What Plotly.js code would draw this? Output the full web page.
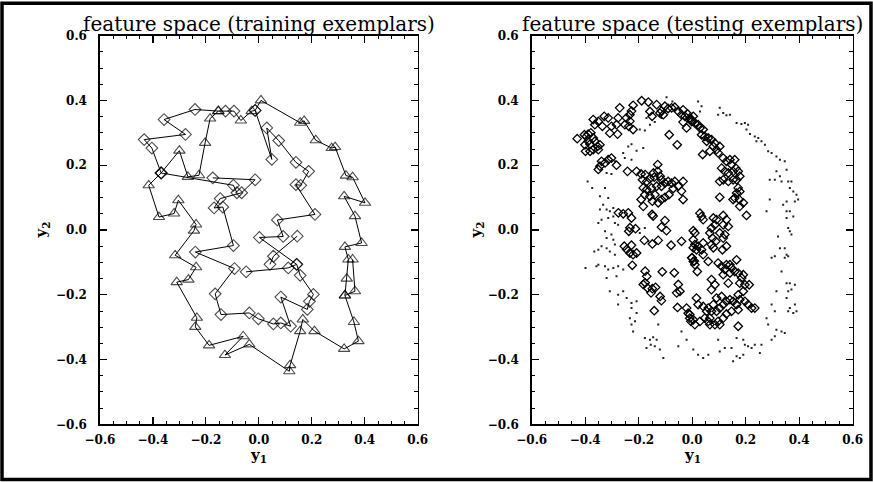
<!DOCTYPE html>
<html>
<head>
<meta charset="utf-8">
<script src="https://cdn.plot.ly/plotly-3.0.1.min.js"></script>
<style>html,body{margin:0;padding:0;background:#fff;}</style>
</head>
<body>
<div id="chart" style="width:873px;height:482px;"></div>
<script>
// ---------- left panel: training exemplars (polyline, null = break) ----------
const trainX = [
  -0.014, 0.008, 0.156, 0.171, 0.215, 0.275, 0.288, 0.329, 0.354, 0.401,
  0.322, 0.363, 0.388, 0.325, 0.338, 0.332, 0.325, 0.359, 0.376, 0.322,
  0.210, 0.166, 0.156, 0.118, 0.115, -0.036, -0.128, -0.059, -0.188, -0.240,
  -0.234, -0.310, -0.266, -0.237, -0.316, -0.245, -0.237, -0.304, -0.320, -0.377,
  -0.416, -0.369, -0.300, -0.268, -0.226, -0.203, -0.184, -0.153, -0.126, -0.094,
  -0.068, -0.027, -0.014, 0.049, 0.030, 0.075, 0.140, 0.188, 0.158, 0.140,
  0.212, 0.070, 0.092, 0.002, 0.143, 0.156, 0.206, 0.191, 0.183, 0.083,
  0.120, 0.083, 0.055, -0.002, -0.036, -0.143, -0.165, -0.092, -0.240, -0.096,
  -0.136, -0.169, -0.146, -0.065, -0.014, -0.174, null,
  -0.369, -0.404, -0.433, -0.277, -0.358, -0.241, -0.153, null,
  -0.369, -0.096, -0.083, null,
  -0.048, 0.111, 0.143, null,
  0.145, 0.055, 0.042, null,
  0.354, 0.363, 0.325
];
const trainY = [
  0.369, 0.400, 0.331, 0.337, 0.277, 0.253, 0.256, 0.168, 0.163, 0.084,
  0.104, 0.043, -0.040, -0.052, -0.091, -0.150, -0.202, -0.284, -0.343, -0.367,
  -0.312, -0.276, -0.312, -0.417, -0.436, -0.353, -0.386, -0.328, -0.356, -0.299,
  -0.271, -0.161, -0.153, -0.115, -0.078, -0.002, 0.017, 0.092, 0.051, 0.040,
  0.138, 0.176, 0.245, 0.164, 0.169, 0.269, 0.344, 0.367, 0.367, 0.367,
  0.338, 0.367, 0.369, 0.218, 0.315, 0.276, 0.209, 0.181, 0.138, 0.140,
  0.048, 0.031, -0.020, -0.023, -0.106, -0.140, -0.199, -0.220, -0.245, -0.207,
  -0.297, -0.287, -0.290, -0.274, -0.256, -0.261, -0.197, -0.119, -0.068, -0.048,
  0.071, 0.068, 0.097, 0.115, 0.155, 0.161, null,
  0.176, 0.253, 0.279, 0.295, 0.341, 0.372, 0.367, null,
  0.176, 0.138, 0.115, null,
  -0.129, -0.117, -0.106, null,
  -0.019, -0.081, -0.106, null,
  -0.091, -0.189, -0.202
];
// D = diamond exemplar, T = triangle exemplar
const trainSymbol = [
  'D','T','T','T','T','T','T','T','T','T',
  'T','T','T','T','T','T','T','T','T','T',
  'T','T','T','T','T','T','T','T','T','T',
  'T','T','T','T','T','T','T','T','T','T',
  'T','D','T','T','T','T','T','T','D','D',
  'T','T','D','D','D','D','D','D','D','D',
  'D','D','D','D','D','D','D','D','D','D',
  'D','D','D','D','D','D','D','D','D','D',
  'D','D','D','D','D','D', null,
  'D','D','D','D','D','D','T', null,
  'D','D','D', null,
  'D','D','D', null,
  'D','D','D', null,
  'T','T','T'
];

// ---------- right panel: testing exemplars ----------
const testDiamondX = [
  -0.189,-0.164,-0.133,-0.102,-0.115,-0.090,-0.077,-0.065,-0.052,-0.040,-0.034,-0.027,-0.017,-0.009,-0.002,-0.021,-0.034,-0.221,-0.227,-0.246,-0.271,-0.277,-0.283,-0.302,-0.314,-0.329,-0.336,-0.351,-0.370,-0.364,-0.308,-0.279,-0.252,-0.233,-0.221,-0.233,-0.237,-0.086,-0.056,-0.150,-0.158,-0.121,-0.108,
  -0.430,-0.403,-0.395,-0.389,-0.379,-0.370,-0.389,-0.401,-0.382,-0.364,-0.354,-0.370,-0.399,-0.382,-0.351,-0.345,
  -0.339,-0.326,-0.314,-0.302,-0.351,-0.345,-0.283,-0.242,
  -0.129,-0.208,-0.191,-0.176,-0.145,-0.129,-0.120,-0.186,-0.170,-0.158,-0.142,-0.115,-0.102,-0.090,-0.077,-0.065,-0.034,-0.052,-0.071,-0.040,-0.183,-0.170,-0.152,-0.133,-0.115,-0.177,-0.158,-0.139,-0.115,-0.102,-0.127,-0.149,-0.191,-0.183,-0.087,-0.034,
  -0.276,-0.258,-0.239,-0.227,-0.233,-0.237,-0.212,-0.150,-0.146,-0.102,-0.115,-0.096,-0.179,-0.149,-0.127,-0.079,-0.040,-0.254,-0.245,-0.233,-0.221,-0.208,-0.227,-0.224,-0.176,-0.170,-0.176,-0.183,-0.167,-0.154,-0.149,-0.137,-0.120,-0.115,-0.052,-0.046,-0.058,-0.112,-0.067,-0.142,-0.055,-0.021,-0.015,-0.009,-0.005,0.004,0.004,0.000,0.008,
  -0.002,0.010,0.004,0.022,0.029,0.041,0.035,0.047,0.054,0.060,0.072,0.085,0.079,0.091,0.103,0.097,0.039,0.066,0.116,0.128,0.141,0.159,0.147,0.163,0.110,0.122,0.135,0.153,0.172,0.178,0.166,0.153,0.116,0.135,0.103,0.172,0.178,0.166,0.159,0.153,0.176,0.191,0.178,0.203,0.103,
  0.029,0.035,0.041,0.079,0.091,0.116,0.128,0.135,0.116,0.085,0.072,0.066,0.076,0.088,0.072,0.103,0.116,0.122,0.128,0.113,0.010,0.004,0.010,0.022,0.035,0.041,0.016,-0.002,0.004,0.010,0.019,0.041,0.060,0.079,0.097,0.110,0.128,0.147,0.159,0.172,0.141,0.122,0.116,0.141,0.166,0.191,0.185,0.197,0.178,
  0.072,0.085,0.072,0.135,0.213,0.172,0.191,0.178,0.197,0.209,0.222,0.234,0.016,0.022,0.041,0.060,0.072,0.091,0.103,0.116,0.128,0.141,0.153,0.166,0.172,0.147,0.128,0.116,0.097,0.103,0.085,0.066,0.060,0.047,0.029,0.010,-0.009,0.004,0.172,0.110,0.091,0.079,0.054,0.066
];
const testDiamondY = [
  0.399,0.395,0.387,0.382,0.368,0.375,0.377,0.379,0.366,0.356,0.371,0.351,0.358,0.346,0.335,0.315,0.333,0.385,0.367,0.346,0.377,0.346,0.325,0.320,0.346,0.351,0.320,0.335,0.341,0.325,0.299,0.296,0.325,0.336,0.310,0.356,0.320,0.294,0.263,0.351,0.366,0.361,0.356,
  0.282,0.294,0.289,0.296,0.300,0.284,0.274,0.263,0.265,0.274,0.258,0.248,0.243,0.243,0.248,0.263,
  0.212,0.207,0.217,0.222,0.187,0.197,0.200,0.181,
  0.202,0.181,0.173,0.171,0.176,0.181,0.166,0.155,0.150,0.158,0.163,0.155,0.145,0.150,0.145,0.150,0.150,0.135,0.128,0.120,0.130,0.125,0.130,0.135,0.135,0.109,0.104,0.109,0.094,0.101,0.084,0.089,0.094,0.073,0.109,0.094,
  0.053,0.050,0.053,0.037,0.007,-0.004,0.004,0.048,0.043,0.029,0.009,-0.002,-0.032,-0.043,-0.032,-0.047,-0.035,-0.050,-0.060,-0.071,-0.076,-0.071,-0.047,-0.109,-0.127,-0.143,-0.163,-0.168,-0.179,-0.194,-0.181,-0.177,-0.205,-0.218,-0.168,-0.189,-0.194,-0.129,-0.132,-0.249,-0.239,-0.241,-0.257,-0.272,-0.282,-0.002,-0.055,-0.086,-0.096,
  0.340,0.330,0.351,0.325,0.315,0.310,0.294,0.289,0.274,0.284,0.279,0.268,0.258,0.248,0.258,0.238,0.233,0.243,0.222,0.212,0.217,0.217,0.202,0.191,0.191,0.181,0.176,0.181,0.181,0.166,0.155,0.155,0.155,0.150,0.150,0.130,0.119,0.114,0.099,0.094,0.094,0.084,0.073,0.045,0.101,
  0.052,0.042,0.032,0.037,0.032,0.045,0.032,0.011,0.016,0.016,0.006,-0.009,-0.025,-0.035,-0.045,-0.009,-0.025,-0.014,-0.050,-0.061,-0.009,-0.030,-0.045,-0.050,-0.061,-0.040,-0.061,-0.086,-0.097,-0.107,-0.128,-0.076,-0.097,-0.055,-0.102,-0.112,-0.107,-0.117,-0.128,-0.133,-0.133,-0.122,-0.138,-0.107,-0.092,-0.138,-0.148,-0.169,-0.164,
  -0.153,-0.169,-0.184,-0.164,-0.169,-0.200,-0.189,-0.215,-0.220,-0.230,-0.241,-0.241,-0.210,-0.230,-0.236,-0.241,-0.251,-0.251,-0.241,-0.230,-0.220,-0.215,-0.220,-0.230,-0.246,-0.251,-0.259,-0.272,-0.282,-0.292,-0.292,-0.292,-0.282,-0.272,-0.282,-0.292,-0.261,-0.277,-0.297,-0.205,-0.210,-0.230,-0.251,-0.272
];
const testDotX = [
  -0.096,-0.074,-0.171,-0.140,-0.115,-0.158,-0.177,-0.196,-0.227,-0.239,
  -0.208,-0.183,-0.258,-0.252,-0.227,-0.289,-0.320,-0.302,-0.391,-0.374,
  -0.326,-0.345,-0.314,-0.333,-0.345,-0.320,-0.308,-0.295,-0.295,-0.314,
  -0.289,-0.277,-0.339,-0.351,-0.326,-0.302,-0.320,-0.295,-0.289,-0.339,
  -0.320,-0.308,-0.289,-0.351,-0.366,-0.399,-0.358,-0.351,-0.326,-0.314,
  -0.295,-0.277,-0.258,-0.283,-0.320,-0.308,-0.277,-0.258,-0.245,-0.227,
  -0.208,-0.277,-0.227,-0.208,-0.233,-0.214,-0.227,-0.221,-0.177,-0.158,
  -0.146,-0.133,-0.155,-0.171,-0.140,-0.121,-0.108,-0.052,-0.040,-0.021,
  -0.127,-0.177,-0.196,-0.164,
  0.022,0.035,0.029,0.103,0.116,0.128,0.141,0.097,0.166,0.184,
  0.197,0.209,0.203,0.216,0.234,0.247,0.259,0.272,0.240,0.284,
  0.297,0.315,0.328,0.346,0.353,0.315,0.328,0.309,0.290,0.334,
  0.359,0.371,0.365,0.378,0.390,0.396,0.384,0.353,0.340,0.353,
  0.365,0.378,0.353,0.359,0.365,0.371,0.321,0.290,0.278,0.346,
  0.353,0.359,0.346,0.328,0.309,0.297,0.334,0.353,0.365,0.384,
  0.371,0.359,0.353,0.365,0.384,0.390,0.378,0.359,0.315,0.297,
  0.309,0.278,0.284,0.315,0.334,0.346,0.309,0.297,0.259,0.253,
  0.234,0.209,0.222,0.191,0.178,0.166,0.153,0.147,0.122,0.103,
  0.097,0.060,0.041,0.022,0.004,0.166,0.191,0.197
];
const testDotY = [
  0.410,0.397,0.346,0.333,0.346,0.325,0.307,0.310,0.265,0.258,
  0.245,0.253,0.238,0.222,0.217,0.212,0.176,0.173,0.150,0.130,
  0.130,0.104,0.099,0.078,0.063,0.063,0.058,0.068,0.042,0.037,
  0.022,0.016,0.032,0.022,-0.004,-0.014,-0.025,-0.030,-0.045,-0.050,
  -0.056,-0.066,-0.076,-0.061,-0.066,-0.117,-0.112,-0.107,-0.112,-0.122,
  -0.117,-0.112,-0.122,-0.143,-0.148,-0.189,-0.200,-0.189,-0.210,-0.225,
  -0.220,-0.230,-0.241,-0.256,-0.272,-0.282,-0.292,-0.313,-0.333,-0.339,
  -0.331,-0.339,-0.354,-0.364,-0.359,-0.369,-0.395,-0.359,-0.313,-0.339,
  -0.292,0.006,-0.009,-0.035,
  0.397,0.382,0.366,0.377,0.361,0.354,0.356,0.356,0.330,0.327,
  0.330,0.325,0.310,0.296,0.289,0.284,0.274,0.263,0.274,0.243,
  0.238,0.227,0.217,0.212,0.186,0.181,0.166,0.155,0.155,0.150,
  0.150,0.150,0.130,0.119,0.109,0.094,0.088,0.088,0.078,0.058,
  0.058,0.042,0.037,0.006,-0.004,-0.014,-0.020,0.094,0.058,-0.056,
  -0.076,-0.081,-0.086,-0.056,-0.081,-0.086,-0.128,-0.164,-0.164,-0.169,
  -0.184,-0.189,-0.210,-0.241,-0.230,-0.251,-0.256,-0.251,-0.189,-0.230,
  -0.251,-0.272,-0.292,-0.308,-0.313,-0.318,-0.328,-0.339,-0.354,-0.380,
  -0.354,-0.359,-0.364,-0.385,-0.395,-0.390,-0.405,-0.364,-0.364,-0.375,
  -0.339,-0.385,-0.395,-0.385,-0.369,-0.333,-0.339,-0.354
];

const titles = ['feature space (training exemplars)', 'feature space (testing exemplars)'];
const xLabel = 'y<sub>1</sub>';
const yLabel = 'y<sub>2</sub>';

// ---------- build ----------
const symMap = {D: 'diamond-open', T: 'triangle-up-open'};
const sizeMap = {D: 9, T: 10};
const trainTrace = {
  x: trainX, y: trainY, xaxis: 'x', yaxis: 'y',
  mode: 'lines+markers', type: 'scatter', connectgaps: false,
  line: {color: '#000', width: 1},
  marker: {
    symbol: trainSymbol.map(s => s ? symMap[s] : 'circle'),
    size: trainSymbol.map(s => s ? sizeMap[s] : 0),
    color: '#000', line: {color: '#000', width: 1.1}
  },
  hoverinfo: 'skip'
};
const dotTrace = {
  x: testDotX, y: testDotY, xaxis: 'x2', yaxis: 'y2',
  mode: 'markers', type: 'scatter',
  marker: {symbol: 'square', size: 2, color: '#222'},
  hoverinfo: 'skip'
};
const diamondTrace = {
  x: testDiamondX, y: testDiamondY, xaxis: 'x2', yaxis: 'y2',
  mode: 'markers', type: 'scatter',
  marker: {symbol: 'diamond-open', size: 6.5, color: '#000', line: {color: '#000', width: 1.3}},
  hoverinfo: 'skip'
};

const tickFont = {family: 'DejaVu Serif', size: 12, color: '#000', weight: 'bold'};
function axis(extra, isY) {
  return Object.assign({
    range: [-0.6, 0.6], tickmode: 'linear', tick0: -0.6, dtick: 0.2, tickformat: '.1f',
    ticks: 'inside', ticklen: 7, tickwidth: 1.2, tickcolor: '#000',
    mirror: 'ticks', showline: true, linewidth: 1.6, linecolor: '#000',
    showgrid: false, zeroline: false, fixedrange: true,
    minor: {tick0: -0.6, dtick: 0.05, ticks: 'inside', ticklen: 3.5, tickwidth: 1, tickcolor: '#000', showgrid: false},
    tickfont: tickFont,
    ticklabelstandoff: isY ? 9 : 4
  }, extra);
}
const yDom = [0.1195, 0.9261];
const titleFont = {family: 'DejaVu Serif', size: 20, color: '#000'};
const labelFont = {family: 'DejaVu Serif', size: 15, color: '#000', weight: 'bold'};
const layout = {
  width: 873, height: 482,
  margin: {l: 0, r: 0, t: 0, b: 0},
  paper_bgcolor: '#fff', plot_bgcolor: '#fff',
  showlegend: false,
  font: {family: 'DejaVu Serif', color: '#000'},
  xaxis: axis({domain: [0.1145, 0.4785], anchor: 'y'}, false),
  yaxis: axis({domain: yDom, anchor: 'x'}, true),
  xaxis2: axis({domain: [0.6091, 0.9767], anchor: 'y2'}, false),
  yaxis2: axis({domain: yDom, anchor: 'x2'}, true),
  annotations: [
    {text: titles[0], xref: 'x domain', x: 0.5, yref: 'paper', y: 0.951, xanchor: 'center', yanchor: 'middle', showarrow: false, font: titleFont},
    {text: titles[1], xref: 'x2 domain', x: 0.5, yref: 'paper', y: 0.951, xanchor: 'center', yanchor: 'middle', showarrow: false, font: titleFont},
    {text: xLabel, xref: 'x domain', x: 0.5, yref: 'paper', y: 0.056, xanchor: 'center', yanchor: 'middle', showarrow: false, font: labelFont},
    {text: xLabel, xref: 'x2 domain', x: 0.5, yref: 'paper', y: 0.056, xanchor: 'center', yanchor: 'middle', showarrow: false, font: labelFont},
    {text: yLabel, xref: 'paper', x: 0.0475, yref: 'y domain', y: 0.5, xanchor: 'center', yanchor: 'middle', textangle: -90, showarrow: false, font: labelFont},
    {text: yLabel, xref: 'paper', x: 0.5447, yref: 'y2 domain', y: 0.5, xanchor: 'center', yanchor: 'middle', textangle: -90, showarrow: false, font: labelFont}
  ],
  shapes: [
    {type: 'rect', xref: 'paper', yref: 'paper', x0: 0.0023, x1: 0.9977, y0: 0.0052, y1: 0.9931, line: {color: '#000', width: 3.5}, fillcolor: 'rgba(0,0,0,0)'}
  ]
};
Plotly.newPlot('chart', [trainTrace, dotTrace, diamondTrace], layout, {displayModeBar: false, staticPlot: true});
</script>
</body>
</html>
